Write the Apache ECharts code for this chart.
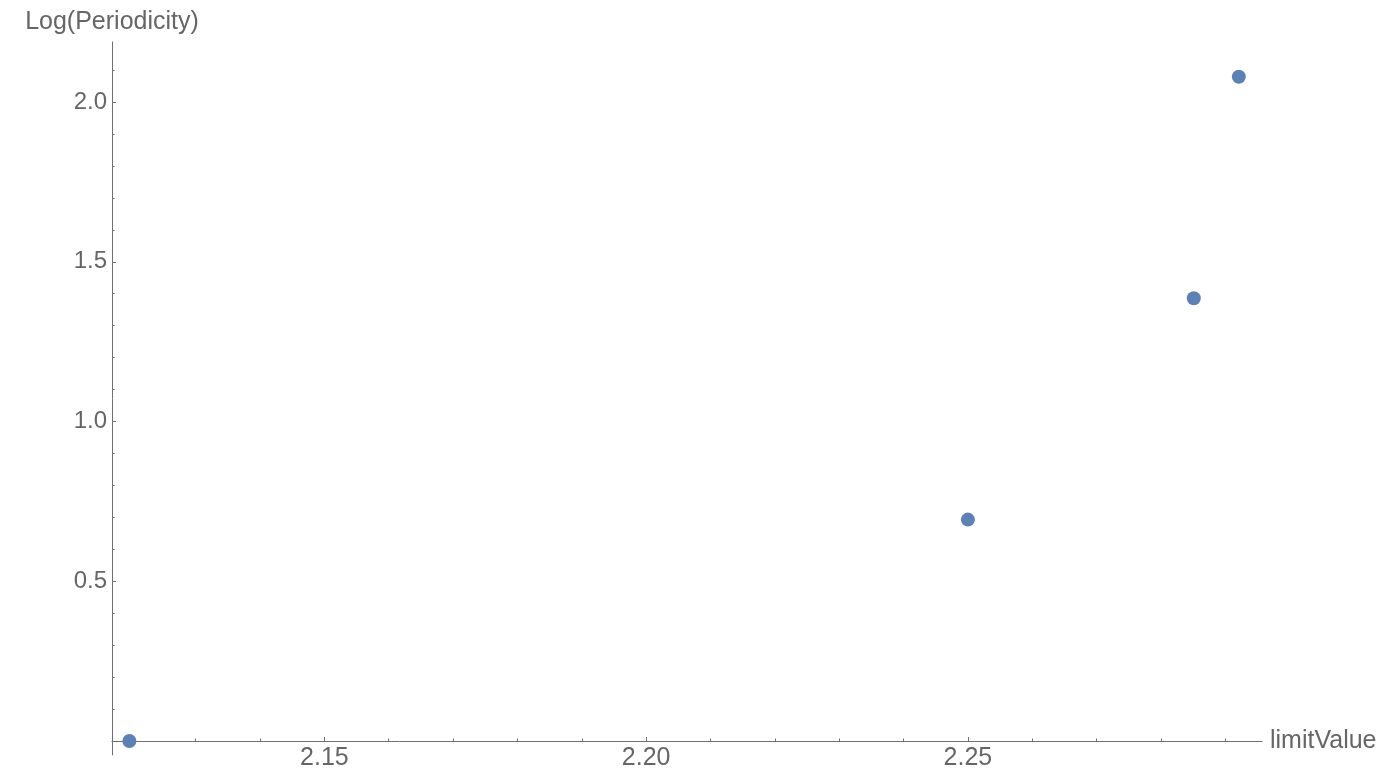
<!DOCTYPE html>
<html>
<head>
<meta charset="utf-8">
<script src="https://cdn.jsdelivr.net/npm/echarts@6/dist/echarts.min.js"></script>
<style>html,body{margin:0;padding:0;background:#fff}#c{width:1400px;height:781px}</style>
</head>
<body>
<div id="c"></div>
<script>
// Data
const limitValue = [2.1197, 2.25, 2.2851, 2.2921];
const logPeriodicity = [0.0, 0.693, 1.386, 2.079];

// Axis ticks
const xMajorTicks = [2.15, 2.20, 2.25];
const xMinorTicks = [2.12, 2.13, 2.14, 2.16, 2.17, 2.18, 2.19, 2.21, 2.22, 2.23, 2.24, 2.26, 2.27, 2.28, 2.29];
const yMajorTicks = [0.5, 1.0, 1.5, 2.0];
const yMinorTicks = [0.1, 0.2, 0.3, 0.4, 0.6, 0.7, 0.8, 0.9, 1.1, 1.2, 1.3, 1.4, 1.6, 1.7, 1.8, 1.9, 2.1];
const xRange = [2.117, 2.2957];
const yRange = [-0.0438, 2.1878];
const xName = 'limitValue';
const yName = 'Log(Periodicity)';

const FONT = '"Liberation Sans", Arial, sans-serif';
const GRAY = '#666666';
const LINE = '#707070';

const chart = echarts.init(document.getElementById('c'), null, {renderer: 'canvas'});
const points = limitValue.map((x, i) => [x, logPeriodicity[i]]);

chart.setOption({
  animation: false,
  backgroundColor: '#ffffff',
  grid: {left: 112, right: 138, top: 42, bottom: 26, containLabel: false, outerBoundsMode: 'none'},
  xAxis: [
    {
      type: 'value', position: 'bottom', min: xRange[0], max: xRange[1],
      name: xName, nameLocation: 'end', nameGap: 8,
      nameTextStyle: {fontFamily: FONT, fontSize: 25, color: GRAY, verticalAlign: 'middle'},
      axisLine: {show: true, onZero: true, onZeroAxisIndex: 0, lineStyle: {color: LINE, width: 1}},
      axisTick: {show: true, inside: true, length: 4, customValues: xMajorTicks, lineStyle: {color: LINE}},
      axisLabel: {show: true, customValues: xMajorTicks, margin: -9, fontFamily: FONT, fontSize: 25, color: GRAY,
        formatter: v => v.toFixed(2)},
      splitLine: {show: false}, minorTick: {show: false}
    },
    {
      type: 'value', position: 'bottom', min: xRange[0], max: xRange[1],
      axisLine: {show: false, onZero: true, onZeroAxisIndex: 0},
      axisTick: {show: true, inside: true, length: 2.5, customValues: xMinorTicks, lineStyle: {color: LINE}},
      axisLabel: {show: false},
      splitLine: {show: false}
    }
  ],
  yAxis: [
    {
      type: 'value', position: 'left', min: yRange[0], max: yRange[1],
      name: yName, nameLocation: 'end', nameGap: 7,
      nameTextStyle: {fontFamily: FONT, fontSize: 25, color: GRAY},
      axisLine: {show: true, onZero: false, lineStyle: {color: LINE, width: 1}},
      axisTick: {show: true, inside: true, length: 4, customValues: yMajorTicks, lineStyle: {color: LINE}},
      axisLabel: {show: true, customValues: yMajorTicks, margin: 5, fontFamily: FONT, fontSize: 24, color: GRAY,
        formatter: v => v.toFixed(1)},
      splitLine: {show: false}
    },
    {
      type: 'value', position: 'left', min: yRange[0], max: yRange[1],
      axisLine: {show: false, onZero: false},
      axisTick: {show: true, inside: true, length: 2.5, customValues: yMinorTicks, lineStyle: {color: LINE}},
      axisLabel: {show: false},
      splitLine: {show: false}
    }
  ],
  series: [{
    type: 'scatter', xAxisIndex: 0, yAxisIndex: 0,
    data: points, symbol: 'circle', symbolSize: 14,
    itemStyle: {color: '#5E81B5', opacity: 1}
  }]
});
</script>
</body>
</html>
